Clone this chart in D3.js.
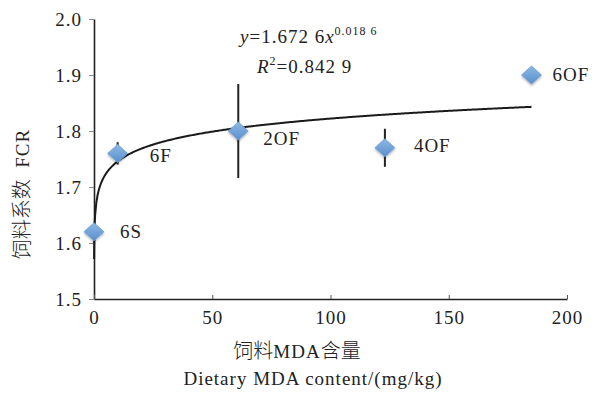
<!DOCTYPE html>
<html>
<head>
<meta charset="utf-8">
<script src="https://cdn.jsdelivr.net/npm/d3@7"></script>
<style>
  body { margin: 0; background: #fff; }
  svg { display: block; }
  text { font-family: "Liberation Serif", "Times New Roman", serif; fill: #222; letter-spacing: 1px; }
  .cjk { font-family: "Noto Sans CJK SC", sans-serif; font-weight: 300; letter-spacing: 0; }
</style>
</head>
<body>
<svg width="596" height="394"></svg>
<script>
// group labels, MDA content (mg/kg), FCR and error (+/-)
const groups = ["6S", "6F", "2OF", "4OF", "6OF"];
const mda = [0, 10, 61, 123, 185];
const fcr = [1.62, 1.76, 1.80, 1.77, 1.90];
const err = [0, 0.02, 0.084, 0.034, 0];

const xTicks = [0, 50, 100, 150, 200];
const yTicks = [1.5, 1.6, 1.7, 1.8, 1.9, 2.0];

// power fit y = a * x^b
const fitA = 1.6726, fitB = 0.0186;

const fs = 19;

const svg = d3.select("svg"),
    margin = { top: 19, right: 29, bottom: 95, left: 94 },
    width = +svg.attr("width") - margin.left - margin.right,
    height = +svg.attr("height") - margin.top - margin.bottom;

const x = d3.scaleLinear().domain([0, 200]).range([0, width]),
    y = d3.scaleLinear().domain([1.5, 2.0]).range([height, 0]),
    g = svg.append("g").attr("transform", `translate(${margin.left},${margin.top})`);

const defs = svg.append("defs");
const grad = defs.append("linearGradient").attr("id", "dia").attr("x1", 0).attr("y1", 0).attr("x2", 0).attr("y2", 1);
grad.append("stop").attr("offset", "0%").attr("stop-color", "#8db8e6");
grad.append("stop").attr("offset", "100%").attr("stop-color", "#5a8fcb");
const blur = defs.append("filter").attr("id", "shadow").attr("x", "-50%").attr("y", "-50%").attr("width", "200%").attr("height", "200%");
blur.append("feDropShadow").attr("dx", 0).attr("dy", 1.5).attr("stdDeviation", 1.2).attr("flood-color", "#000").attr("flood-opacity", 0.3);

// axes
g.append("g")
    .call(d3.axisLeft(y).tickValues(yTicks).tickFormat(d3.format(".1f")).tickSize(5).tickPadding(7).tickSizeOuter(0))
    .call(a => a.select(".domain").attr("stroke", "#222").attr("stroke-width", 1.6))
    .call(a => a.selectAll(".tick line").attr("stroke", "#888"))
    .call(a => a.selectAll("text").attr("font-size", fs).attr("font-family", "Liberation Serif").attr("fill", "#222"));

g.append("g")
    .attr("transform", `translate(0,${height})`)
    .call(d3.axisBottom(x).tickValues(xTicks).tickSize(-4).tickPadding(12).tickSizeOuter(0))
    .call(a => a.select(".domain").attr("stroke", "#222").attr("stroke-width", 1.6))
    .call(a => a.selectAll(".tick line").attr("stroke", "#555"))
    .call(a => a.selectAll("text").attr("font-size", fs).attr("font-family", "Liberation Serif").attr("fill", "#222"));

// fit curve
const fitX = [0.035, 0.1, 0.2, 0.3].concat(d3.range(0.5, 185.01, 0.5));
g.append("path")
    .datum(fitX)
    .attr("fill", "none")
    .attr("stroke", "#1a1a1a")
    .attr("stroke-width", 2)
    .attr("d", d3.line().x(d => x(d)).y(d => y(fitA * Math.pow(d, fitB))));

// error bars
groups.forEach((grp, i) => {
    if (!err[i]) return;
    g.append("line")
        .attr("x1", x(mda[i])).attr("x2", x(mda[i]))
        .attr("y1", y(fcr[i] - err[i])).attr("y2", y(fcr[i] + err[i]))
        .attr("stroke", "#222").attr("stroke-width", 2);
});

// diamond markers
const diamond = "M0,-9L10,0L0,9L-10,0Z";
groups.forEach((grp, i) => {
    g.append("path")
        .attr("d", diamond)
        .attr("transform", `translate(${x(mda[i])},${y(fcr[i])})`)
        .attr("fill", "url(#dia)")
        .attr("stroke", "#6e9fd4")
        .attr("stroke-width", 0.8)
        .attr("filter", "url(#shadow)");
});

// point labels
const labelOffset = [[26, 6], [32, 9], [25, 14], [29, 4], [21, 6]];
groups.forEach((grp, i) => {
    g.append("text")
        .attr("x", x(mda[i]) + labelOffset[i][0])
        .attr("y", y(fcr[i]) + labelOffset[i][1])
        .attr("font-size", fs)
        .text(grp);
});

// fit equation
const eq = svg.append("text").attr("x", 240).attr("y", 43).attr("font-size", fs);
eq.append("tspan").attr("font-style", "italic").text("y");
eq.append("tspan").text("=1.672 6");
eq.append("tspan").attr("font-style", "italic").text("x");
eq.append("tspan").attr("font-size", 12).attr("dy", -8).text("0.018 6");

const r2 = svg.append("text").attr("x", 257).attr("y", 73).attr("font-size", fs);
r2.append("tspan").attr("font-style", "italic").text("R");
r2.append("tspan").attr("font-size", 12).attr("dy", -8).text("2");
r2.append("tspan").attr("dy", 8).text("=0.842 9");

// axis titles
const yTitle = svg.append("text")
    .attr("transform", "translate(29,194) rotate(-90)")
    .attr("text-anchor", "middle")
    .attr("font-size", fs);
yTitle.append("tspan").attr("class", "cjk").attr("font-size", 20).text("饲料系数");
yTitle.append("tspan").text("\u00a0 FCR");

const xTitle = svg.append("text")
    .attr("x", 297).attr("y", 358)
    .attr("text-anchor", "middle")
    .attr("font-size", fs);
xTitle.append("tspan").attr("class", "cjk").attr("font-size", 20).text("饲料");
xTitle.append("tspan").text("MDA");
xTitle.append("tspan").attr("class", "cjk").attr("font-size", 20).text("含量");

svg.append("text")
    .attr("x", 313).attr("y", 385)
    .attr("text-anchor", "middle")
    .attr("font-size", fs)
    .text("Dietary MDA content/(mg/kg)");
</script>
</body>
</html>
